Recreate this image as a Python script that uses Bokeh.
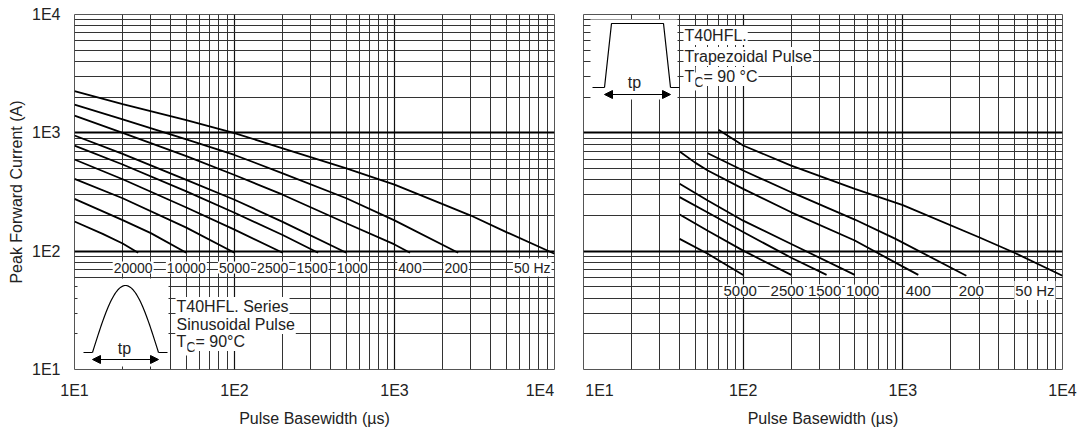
import numpy as np
from bokeh.plotting import figure
from bokeh.models import FixedTicker, Range1d, LinearScale, Label, Arrow, NormalHead
from bokeh.layouts import row
from bokeh.embed import file_html
from bokeh.resources import INLINE

# ---------------- data ----------------
major_ticks = [10, 100, 1000, 10000]
minor_ticks = [m * 10 ** e for e in (1, 2, 3) for m in range(2, 10)]
tick_labels = ["1E1", "1E2", "1E3", "1E4"]

# Sinusoidal pulse (left panel): pulse basewidth (us) -> peak forward current (A)
sin_20000_x = [10, 15, 20, 25]
sin_20000_y = [178, 140, 116, 97]
sin_10000_x = [10, 20, 30, 50]
sin_10000_y = [277, 183, 142, 97]
sin_5000_x = [10, 20, 50, 100]
sin_5000_y = [408, 280, 158, 97]
sin_2500_x = [10, 20, 50, 100, 200]
sin_2500_y = [595, 405, 234, 152, 97]
sin_1500_x = [10, 20, 50, 100, 200, 333]
sin_1500_y = [780, 540, 320, 211, 137, 97]
sin_1000_x = [10, 20, 50, 100, 200, 500]
sin_1000_y = [950, 665, 400, 272, 177, 97]
sin_400_x = [10, 20, 50, 100, 200, 500, 1000, 1250]
sin_400_y = [1400, 1000, 635, 440, 300, 172, 114, 97]
sin_200_x = [10, 20, 50, 100, 200, 500, 1000, 2500]
sin_200_y = [1730, 1300, 880, 650, 455, 280, 182, 97]
sin_50_x = [10, 20, 50, 100, 200, 500, 1000, 2000, 3000, 5000, 10000]
sin_50_y = [2250, 1750, 1280, 995, 740, 500, 365, 250, 200, 145, 95]
sin_labels = ["20000", "10000", "5000", "2500", "1500", "1000", "400", "200", "50 Hz"]
sin_label_x = [25, 50, 100, 200, 333, 500, 1250, 2500, 10000]

# Trapezoidal pulse (right panel)
trap_5000_x = [40, 60, 100]
trap_5000_y = [127, 95, 63]
trap_2500_x = [40, 60, 100, 200]
trap_2500_y = [204, 149, 101, 63]
trap_1500_x = [40, 60, 100, 200, 333]
trap_1500_y = [286, 212, 145, 88, 63]
trap_1000_x = [40, 60, 100, 200, 500]
trap_1000_y = [371, 268, 181, 115, 63]
trap_400_x = [40, 50, 60, 100, 200, 500, 1000, 1250]
trap_400_y = [695, 560, 480, 336, 213, 123, 74, 63]
trap_200_x = [60, 100, 200, 500, 900, 2500]
trap_200_y = [672, 480, 315, 185, 127, 62]
trap_50_x = [70, 100, 200, 500, 1000, 3000, 5000, 10000]
trap_50_y = [1060, 781, 529, 336, 245, 131, 97, 62]
trap_labels = ["5000", "2500", "1500", "1000", "400", "200", "50 Hz"]
trap_label_x = [100, 200, 333, 500, 1250, 2500, 10000]

# ---------------- styling / layout ----------------
FONT = "Liberation Sans"
TXT = "#222222"
NB = "\u00a0"
sin_label_dx = [-5, 0, 0, -10, -6, 6, 0, -2, -3]
trap_label_dx = [-3, -4, -2, 8, 0, 5, -7]


def make_fig(fw, left_border, right_border, show_y):
    p = figure(x_axis_type="log", y_axis_type="log",
               x_range=(10, 10000), y_range=(10, 10000),
               frame_width=fw, frame_height=355,
               min_border_left=left_border, min_border_right=right_border,
               min_border_top=14, min_border_bottom=62,
               output_backend="svg", toolbar_location=None,
               background_fill_color="white", border_fill_color="white")
    p.extra_x_ranges = {"ix": Range1d(0, fw)}
    p.extra_y_ranges = {"iy": Range1d(0, 355)}
    p.extra_x_scales = {"ix": LinearScale()}
    p.extra_y_scales = {"iy": LinearScale()}
    for ax in (p.xaxis[0], p.yaxis[0]):
        ax.ticker = FixedTicker(ticks=major_ticks, minor_ticks=minor_ticks)
        ax.axis_line_color = None
        ax.major_tick_line_color = None
        ax.minor_tick_line_color = None
        ax.major_label_text_font = FONT
        ax.major_label_text_font_size = "16px"
        ax.major_label_text_color = TXT
        ax.axis_label_text_font = FONT
        ax.axis_label_text_font_size = "16px"
        ax.axis_label_text_font_style = "normal"
        ax.axis_label_text_color = TXT
    p.xaxis.axis_label = "Pulse Basewidth (\u00b5s)"
    p.xaxis.major_label_standoff = 6
    p.xaxis.axis_label_standoff = 8
    if show_y:
        p.yaxis.axis_label = "Peak Forward Current (A)"
        p.yaxis.major_label_standoff = 8
        p.yaxis.axis_label_standoff = 4
        p.yaxis.major_label_overrides = dict(zip(major_ticks, tick_labels))
    else:
        p.yaxis.visible = False
    p.xgrid.grid_line_color = "#111111"
    p.xgrid.grid_line_width = 1.2
    p.xgrid.minor_grid_line_color = "#333333"
    p.xgrid.minor_grid_line_width = 1
    p.ygrid.grid_line_color = "#000000"
    p.ygrid.grid_line_width = 2
    p.ygrid.minor_grid_line_color = "#333333"
    p.ygrid.minor_grid_line_width = 1
    p.outline_line_color = "#555555"
    p.outline_line_width = 1
    return p


def add_label(p, text, x, y, size="16px", align="left", bg=True):
    kw = dict(x=x, y=y, text=text, text_font=FONT, text_font_size=size,
              text_color=TXT, text_align=align, text_baseline="middle",
              x_range_name="ix", y_range_name="iy")
    if bg:
        kw.update(background_fill_color="white", background_fill_alpha=1.0, padding=1)
    p.add_layout(Label(**kw))


def add_arrow(p, x0, x1, y):
    p.add_layout(Arrow(x_start=x0, y_start=y, x_end=x1, y_end=y,
                       x_range_name="ix", y_range_name="iy", line_width=1.2,
                       line_color="black",
                       start=NormalHead(size=8, fill_color="black", line_color="black"),
                       end=NormalHead(size=8, fill_color="black", line_color="black")))


# ---------------- left panel ----------------
p1 = make_fig(480, 74, 13, True)
lab1 = dict(zip(major_ticks, tick_labels))
lab1[10000] = tick_labels[3] + NB * 3
p1.xaxis.major_label_overrides = lab1

for xs, ys in [(sin_20000_x, sin_20000_y), (sin_10000_x, sin_10000_y), (sin_5000_x, sin_5000_y),
               (sin_2500_x, sin_2500_y), (sin_1500_x, sin_1500_y), (sin_1000_x, sin_1000_y),
               (sin_400_x, sin_400_y), (sin_200_x, sin_200_y), (sin_50_x, sin_50_y)]:
    p1.line(xs, ys, line_width=1.8, line_color="black")

for t, x, dx in zip(sin_labels, sin_label_x, sin_label_dx):
    last = t.endswith("Hz")
    p1.add_layout(Label(x=x, y=72.6, text=t, text_font=FONT, text_font_size="14px",
                        text_color=TXT, text_align="right" if last else "center",
                        text_baseline="middle", x_offset=dx,
                        background_fill_color="white", background_fill_alpha=1.0, padding=1))

# sinusoidal icon
p1.quad(left=3, right=94, bottom=3, top=91, x_range_name="ix", y_range_name="iy",
        fill_color="white", line_color=None)
tt = np.linspace(0, 1, 60)
p1.line(18 + 66 * tt, 17 + 67 * np.sin(np.pi * tt), x_range_name="ix", y_range_name="iy",
        line_color="black", line_width=1.2)
p1.segment(x0=[9, 84], y0=[17, 17], x1=[18, 93], y1=[17, 17], x_range_name="ix",
           y_range_name="iy", line_color="black", line_width=1)
add_arrow(p1, 18, 84, 10)
add_label(p1, "tp", 50, 21, align="center", bg=False)
add_label(p1, "T40HFL. Series", 101, 63)
add_label(p1, "Sinusoidal Pulse", 101, 45)
add_label(p1, "C", 110.5, 23, size="14px")
add_label(p1, "T", 101, 28)
add_label(p1, "= 90\u00b0C", 120, 28)

# ---------------- right panel ----------------
p2 = make_fig(479, 16, 19, False)
lab2 = dict(zip(major_ticks, tick_labels))
lab2[10] = NB * 4 + tick_labels[0]
p2.xaxis.major_label_overrides = lab2

for xs, ys in [(trap_5000_x, trap_5000_y), (trap_2500_x, trap_2500_y), (trap_1500_x, trap_1500_y),
               (trap_1000_x, trap_1000_y), (trap_400_x, trap_400_y), (trap_200_x, trap_200_y),
               (trap_50_x, trap_50_y)]:
    p2.line(xs, ys, line_width=1.8, line_color="black")

for t, x, dx in zip(trap_labels, trap_label_x, trap_label_dx):
    last = t.endswith("Hz")
    p2.add_layout(Label(x=x, y=46.5, text=t, text_font=FONT, text_font_size="15px",
                        text_color=TXT, text_align="right" if last else "center",
                        text_baseline="middle", x_offset=dx,
                        background_fill_color="white", background_fill_alpha=1.0, padding=1))

# trapezoidal icon
p2.quad(left=7, right=94, bottom=270, top=350, x_range_name="ix", y_range_name="iy",
        fill_color="white", line_color=None)
p2.line([21, 28, 80, 87], [282, 346, 346, 282], x_range_name="ix", y_range_name="iy",
        line_color="black", line_width=1.2)
p2.segment(x0=[9, 87], y0=[282, 282], x1=[21, 96], y1=[282, 282], x_range_name="ix",
           y_range_name="iy", line_color="black", line_width=1)
add_arrow(p2, 21, 87, 275)
add_label(p2, "tp", 51, 287, align="center", bg=False)
add_label(p2, "T40HFL.", 100, 334)
add_label(p2, "Trapezoidal Pulse", 100, 313)
add_label(p2, "C", 109.5, 288, size="14px")
add_label(p2, "T", 100, 293)
add_label(p2, "= 90 \u00b0C", 119, 293)

layout = row(p1, p2)
open("out.html", "w").write(file_html(layout, INLINE))
